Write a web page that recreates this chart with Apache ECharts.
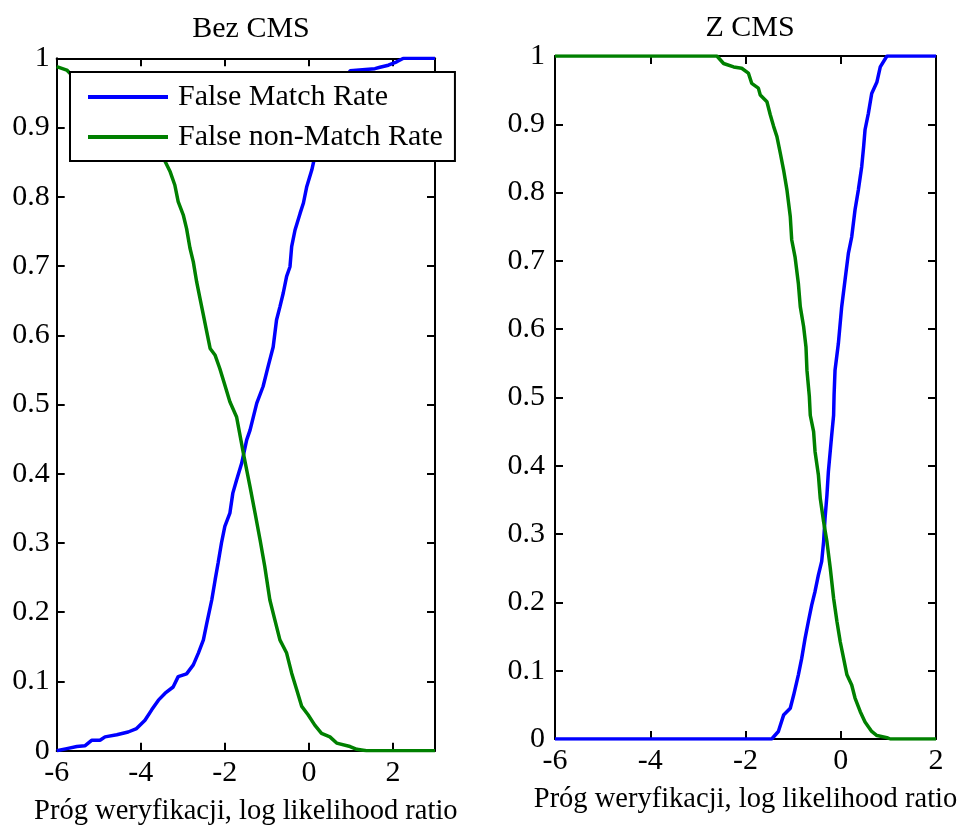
<!DOCTYPE html>
<html>
<head>
<meta charset="utf-8">
<script src="https://cdn.jsdelivr.net/npm/echarts@6/dist/echarts.min.js"></script>
<style>
  html, body { margin: 0; padding: 0; background: #fff; }
  #chart { width: 958px; height: 827px; }
</style>
</head>
<body>
<div id="chart"></div>
<script>
// Panel titles, legend names and axis caption
const panelTitles = ['Bez CMS', 'Z CMS'];
const seriesNames = ['False Match Rate', 'False non-Match Rate'];
const xCaption = 'Próg weryfikacji, log likelihood ratio';

// Without CMS: false match rate vs threshold
const bezFmrThr = [-6, -5.76, -5.52, -5.33, -5.17, -4.97, -4.85, -4.57, -4.30, -4.10, -3.90, -3.74, -3.58, -3.42, -3.23, -3.11, -2.91, -2.75, -2.63, -2.51, -2.43, -2.31, -2.23, -2.16, -2.08, -2.00, -1.88, -1.81, -1.72, -1.60, -1.48, -1.40, -1.24, -1.09, -0.97, -0.85, -0.77, -0.69, -0.61, -0.53, -0.45, -0.41, -0.33, -0.21, -0.13, -0.05, 0.07, 0.14, 0.30, 0.50, 0.70, 0.98, 1.57, 1.69, 1.89, 2.09, 2.25, 3];
const bezFmrRate = [0, 0.003, 0.006, 0.007, 0.015, 0.015, 0.020, 0.023, 0.027, 0.032, 0.044, 0.059, 0.073, 0.083, 0.092, 0.107, 0.111, 0.124, 0.141, 0.160, 0.184, 0.218, 0.247, 0.271, 0.300, 0.324, 0.343, 0.372, 0.391, 0.415, 0.449, 0.463, 0.502, 0.526, 0.555, 0.583, 0.622, 0.641, 0.661, 0.685, 0.699, 0.728, 0.752, 0.776, 0.791, 0.815, 0.839, 0.858, 0.890, 0.920, 0.950, 0.982, 0.985, 0.987, 0.990, 0.995, 1, 1];

// Without CMS: false non-match rate vs threshold
const bezFnmrThr = [-6, -5.76, -5.68, -5.3, -4.8, -4.3, -3.9, -3.6, -3.42, -3.30, -3.19, -3.11, -2.99, -2.91, -2.83, -2.75, -2.67, -2.59, -2.51, -2.43, -2.35, -2.23, -2.12, -2.00, -1.88, -1.72, -1.56, -1.40, -1.28, -1.16, -1.05, -0.93, -0.81, -0.69, -0.53, -0.41, -0.29, -0.17, -0.02, 0.14, 0.30, 0.50, 0.66, 0.98, 1.14, 1.37, 3];
const bezFnmrRate = [0.988, 0.983, 0.978, 0.970, 0.955, 0.935, 0.905, 0.875, 0.851, 0.836, 0.817, 0.793, 0.774, 0.754, 0.726, 0.706, 0.677, 0.653, 0.629, 0.605, 0.581, 0.571, 0.552, 0.528, 0.504, 0.482, 0.430, 0.381, 0.343, 0.304, 0.266, 0.218, 0.189, 0.160, 0.141, 0.112, 0.088, 0.064, 0.052, 0.037, 0.025, 0.020, 0.011, 0.006, 0.002, 0, 0];

// With CMS: false match rate vs threshold
const zFmrThr = [-6, -1.45, -1.31, -1.20, -1.06, -0.99, -0.89, -0.82, -0.75, -0.68, -0.61, -0.54, -0.47, -0.40, -0.36, -0.33, -0.29, -0.26, -0.19, -0.15, -0.14, -0.12, -0.05, 0.02, 0.09, 0.16, 0.23, 0.30, 0.37, 0.44, 0.48, 0.51, 0.58, 0.65, 0.76, 0.83, 0.97, 2];
const zFmrRate = [0, 0, 0.011, 0.035, 0.045, 0.064, 0.094, 0.118, 0.147, 0.172, 0.196, 0.216, 0.240, 0.260, 0.289, 0.323, 0.357, 0.391, 0.445, 0.474, 0.504, 0.540, 0.579, 0.633, 0.672, 0.711, 0.735, 0.775, 0.804, 0.838, 0.867, 0.892, 0.916, 0.945, 0.962, 0.984, 1, 1];

// With CMS: false non-match rate vs threshold
const zFnmrThr = [-6, -2.60, -2.46, -2.25, -2.08, -1.94, -1.87, -1.73, -1.69, -1.55, -1.48, -1.41, -1.34, -1.27, -1.20, -1.13, -1.06, -1.03, -0.96, -0.89, -0.85, -0.78, -0.73, -0.71, -0.66, -0.64, -0.57, -0.54, -0.47, -0.43, -0.36, -0.29, -0.22, -0.15, -0.08, -0.01, 0.06, 0.13, 0.23, 0.30, 0.41, 0.51, 0.65, 0.76, 0.97, 1.04, 2];
const zFnmrRate = [1, 1, 0.989, 0.984, 0.982, 0.975, 0.960, 0.953, 0.943, 0.933, 0.914, 0.897, 0.882, 0.858, 0.833, 0.804, 0.765, 0.731, 0.706, 0.667, 0.633, 0.604, 0.574, 0.540, 0.502, 0.474, 0.450, 0.421, 0.387, 0.352, 0.318, 0.289, 0.250, 0.206, 0.172, 0.142, 0.118, 0.094, 0.079, 0.060, 0.040, 0.025, 0.011, 0.005, 0.002, 0, 0];

const FONT = 'Liberation Serif';
const FS = 30;
const CAPTION_FS = 28.5;
const BLUE = '#0000ff';
const GREEN = '#008000';

function zip(xs, ys) { return xs.map((x, i) => [x, ys[i]]); }

const axisLineStyle = { show: true, onZero: false, lineStyle: { color: '#000', width: 2 } };
const tickStyle = { show: true, inside: true, length: 8, lineStyle: { color: '#000', width: 2 } };
const labelStyle = { color: '#000', fontFamily: FONT, fontSize: FS };

function bottomX(grid, max, showMax, gap) {
  return {
    type: 'value', gridIndex: grid, position: 'bottom', min: -6, max: max, interval: 2,
    axisLine: axisLineStyle, axisTick: tickStyle, splitLine: { show: false },
    axisLabel: Object.assign({ margin: 7, showMaxLabel: showMax }, labelStyle),
    name: xCaption, nameLocation: 'middle', nameGap: gap,
    nameTextStyle: { color: '#000', fontFamily: FONT, fontSize: CAPTION_FS }
  };
}
function topX(grid, max) {
  return {
    type: 'value', gridIndex: grid, position: 'top', min: -6, max: max, interval: 2,
    axisLine: axisLineStyle, axisTick: tickStyle, splitLine: { show: false },
    axisLabel: { show: false }
  };
}
function leftY(grid, margin) {
  return {
    type: 'value', gridIndex: grid, position: 'left', min: 0, max: 1, interval: 0.1,
    axisLine: axisLineStyle, axisTick: tickStyle, splitLine: { show: false },
    axisLabel: Object.assign({ margin: margin }, labelStyle)
  };
}
function rightY(grid) {
  return {
    type: 'value', gridIndex: grid, position: 'right', min: 0, max: 1, interval: 0.1,
    axisLine: axisLineStyle, axisTick: tickStyle, splitLine: { show: false },
    axisLabel: { show: false }
  };
}
function line(name, color, xi, yi, data) {
  return {
    type: 'line', name: name, xAxisIndex: xi, yAxisIndex: yi, data: data,
    showSymbol: false, symbol: 'none', clip: true,
    lineStyle: { color: color, width: 3.5 }, itemStyle: { color: color },
    emphasis: { disabled: true }
  };
}

const chart = echarts.init(document.getElementById('chart'), null, { renderer: 'canvas' });
chart.setOption({
  animation: false,
  backgroundColor: '#fff',
  title: [
    { text: panelTitles[0], left: 246, top: 9, textAlign: 'center',
      textStyle: { color: '#000', fontFamily: FONT, fontSize: FS, fontWeight: 'normal' } },
    { text: panelTitles[1], left: 745, top: 8, textAlign: 'center',
      textStyle: { color: '#000', fontFamily: FONT, fontSize: FS, fontWeight: 'normal' } }
  ],
  legend: {
    data: seriesNames,
    orient: 'vertical',
    left: 70, top: 72,
    padding: [10, 12, 9, 18],
    itemWidth: 80, itemHeight: 4, itemGap: 10,
    icon: 'rect',
    backgroundColor: '#fff',
    borderColor: '#000', borderWidth: 2,
    selectedMode: false,
    textStyle: { color: '#000', fontFamily: FONT, fontSize: FS, lineHeight: 30, padding: [0, 0, 0, 5] }
  },
  grid: [
    { left: 56.7, top: 58.3, width: 378.3, height: 692.4, containLabel: false, outerBoundsMode: 'none' },
    { left: 555, top: 56, width: 381, height: 683, containLabel: false, outerBoundsMode: 'none' }
  ],
  xAxis: [bottomX(0, 3, false, 46), topX(0, 3), bottomX(1, 2, true, 46), topX(1, 2)],
  yAxis: [leftY(0, 7), rightY(0), leftY(1, 10), rightY(1)],
  series: [
    line(seriesNames[0], BLUE, 0, 0, zip(bezFmrThr, bezFmrRate)),
    line(seriesNames[1], GREEN, 0, 0, zip(bezFnmrThr, bezFnmrRate)),
    line(seriesNames[0], BLUE, 2, 2, zip(zFmrThr, zFmrRate)),
    line(seriesNames[1], GREEN, 2, 2, zip(zFnmrThr, zFnmrRate))
  ]
});
</script>
</body>
</html>
